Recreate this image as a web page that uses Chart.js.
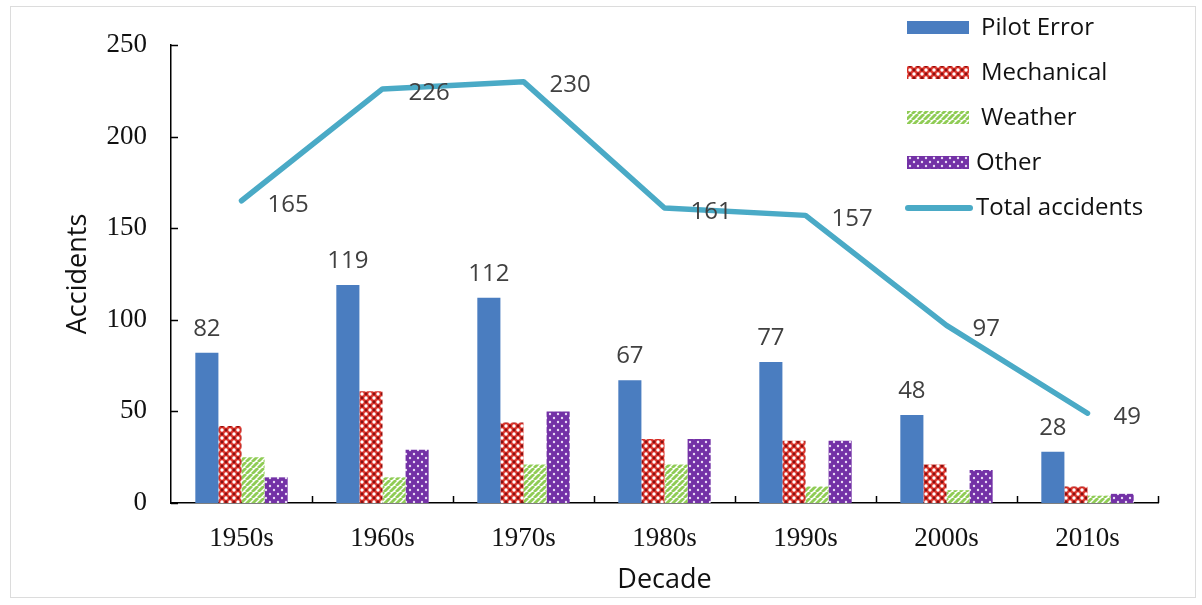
<!DOCTYPE html>
<html>
<head>
<meta charset="utf-8">
<script src="https://cdn.jsdelivr.net/npm/chart.js@4.4.1/dist/chart.umd.min.js"></script>
<style>
  html, body { margin: 0; padding: 0; background: #fff; }
  #wrap { width: 1202px; height: 605px; position: relative; }
</style>
</head>
<body>
<div id="wrap"><canvas id="accidentsChart" width="1202" height="605"></canvas></div>
<script>
// ---- data ----
const decades = ['1950s', '1960s', '1970s', '1980s', '1990s', '2000s', '2010s'];
const pilotError = [82, 119, 112, 67, 77, 48, 28];
const mechanical = [42, 61, 44, 35, 34, 21, 9];
const weather = [25, 14, 21, 21, 9, 7, 4];
const other = [14, 29, 50, 35, 34, 18, 5];
const totalAccidents = [165, 226, 230, 161, 157, 97, 49];
const yTicks = [0, 50, 100, 150, 200, 250];

const SANS = "'Open Sans', 'Noto Sans', sans-serif";
const SERIF = "'Liberation Serif', 'DejaVu Serif', serif";

// ---- fill patterns ----
function makeTile(size, paint) {
  const c = document.createElement('canvas');
  c.width = size; c.height = size;
  paint(c.getContext('2d'), size);
  return c.getContext('2d').createPattern(c, 'repeat');
}
function dot(g, x, y, r, col) {
  g.fillStyle = col;
  g.beginPath(); g.arc(x, y, r, 0, Math.PI * 2); g.fill();
}

const mechPattern = makeTile(8, (g, s) => {
  g.fillStyle = '#df352c'; g.fillRect(0, 0, s, s);
  dot(g, 2, 2, 1.7, '#ffffff');
  dot(g, 6, 6, 1.7, '#ffffff');
  dot(g, 6, 2, 1.4, '#861212');
  dot(g, 2, 6, 1.4, '#861212');
});

const weatherPattern = makeTile(6, (g, s) => {
  g.fillStyle = '#ffffff'; g.fillRect(0, 0, s, s);
  g.strokeStyle = '#8fcc55'; g.lineWidth = 2.8;
  for (let k = -1; k <= 1; k++) {
    g.beginPath();
    g.moveTo(k * s, s);
    g.lineTo(k * s + s, 0);
    g.stroke();
  }
});

const otherPattern = makeTile(8, (g, s) => {
  g.fillStyle = '#7331a6'; g.fillRect(0, 0, s, s);
  dot(g, 2, 2, 1.2, '#e9dcf5');
  dot(g, 6, 6, 1.2, '#e9dcf5');
});

// ---- plugins ----
const framePlugin = {
  id: 'frame',
  beforeDraw(chart) {
    const ctx = chart.ctx;
    ctx.save();
    ctx.strokeStyle = '#dcdcdc';
    ctx.lineWidth = 1;
    ctx.strokeRect(10.5, 6.5, 1185, 591);
    ctx.restore();
  }
};

const innerTicks = {
  id: 'innerTicks',
  afterDraw(chart) {
    const { ctx, scales: { x, y } } = chart;
    ctx.save();
    ctx.strokeStyle = '#000';
    ctx.lineWidth = 1.5;
    ctx.beginPath();
    y.ticks.forEach(t => {
      const py = Math.round(y.getPixelForValue(t.value)) + 0.5;
      ctx.moveTo(x.left, py); ctx.lineTo(x.left + 7, py);
    });
    const step = x.width / decades.length;
    for (let i = 1; i <= decades.length; i++) {
      const px = Math.round(x.left + i * step) + 0.5;
      ctx.moveTo(px, y.bottom); ctx.lineTo(px, y.bottom - 7);
    }
    ctx.stroke();
    ctx.restore();
  }
};

const valueLabels = {
  id: 'valueLabels',
  afterDatasetsDraw(chart) {
    const ctx = chart.ctx;
    ctx.save();
    ctx.fillStyle = '#404040';
    ctx.font = '24px ' + SANS;
    // pilot error values above the blue bars
    ctx.textAlign = 'center';
    ctx.textBaseline = 'alphabetic';
    chart.getDatasetMeta(0).data.forEach((el, i) => {
      ctx.fillText(pilotError[i], el.x, el.y - 17);
    });
    // totals to the right of the line points
    ctx.textAlign = 'left';
    ctx.textBaseline = 'middle';
    chart.getDatasetMeta(4).data.forEach((el, i) => {
      ctx.fillText(totalAccidents[i], el.x + 26, el.y + 4);
    });
    ctx.restore();
  }
};

const sideLegend = {
  id: 'sideLegend',
  afterDraw(chart) {
    const ctx = chart.ctx;
    ctx.save();
    ctx.font = '24px ' + SANS;
    ctx.textBaseline = 'middle';
    ctx.textAlign = 'left';
    chart.data.datasets.forEach((ds, i) => {
      const cy = 28 + i * 45;
      if (ds.type === 'line') {
        ctx.strokeStyle = ds.borderColor;
        ctx.lineWidth = 6;
        ctx.lineCap = 'round';
        ctx.beginPath();
        ctx.moveTo(908, cy); ctx.lineTo(970, cy);
        ctx.stroke();
      } else {
        ctx.fillStyle = ds.backgroundColor;
        ctx.fillRect(907, cy - 7, 62, 13);
      }
      ctx.fillStyle = '#111';
      ctx.fillText(ds.label, i >= 3 ? 976 : 981, cy);
    });
    ctx.restore();
  }
};

// ---- chart ----
new Chart(document.getElementById('accidentsChart'), {
  data: {
    labels: decades,
    datasets: [
      { type: 'bar', label: 'Pilot Error', data: pilotError, backgroundColor: '#4a7dc0', order: 1 },
      { type: 'bar', label: 'Mechanical', data: mechanical, backgroundColor: mechPattern, order: 1 },
      { type: 'bar', label: 'Weather', data: weather, backgroundColor: weatherPattern, order: 1 },
      { type: 'bar', label: 'Other', data: other, backgroundColor: otherPattern, order: 1 },
      {
        type: 'line', label: 'Total accidents', data: totalAccidents,
        borderColor: '#4aaac6', backgroundColor: '#4aaac6',
        borderWidth: 5.5, pointRadius: 0, tension: 0, fill: false,
        borderCapStyle: 'round', borderJoinStyle: 'round', order: 0
      }
    ]
  },
  options: {
    responsive: false,
    animation: false,
    layout: { padding: { top: 45, right: 44, bottom: 0, left: 0 } },
    datasets: { bar: { categoryPercentage: 0.655, barPercentage: 1.0, borderWidth: 0 } },
    plugins: { legend: { display: false }, tooltip: { enabled: false } },
    scales: {
      x: {
        offset: true,
        grid: { display: false, drawTicks: false },
        border: { display: true, color: '#000', width: 1.5 },
        ticks: { color: '#111', padding: 20, font: { family: SERIF, size: 27 } },
        title: { display: true, text: 'Decade', color: '#111', padding: { top: 0, bottom: 8 }, font: { family: SANS, size: 27 } },
        afterFit: s => { s.height = 102; }
      },
      y: {
        min: 0, max: 250,
        afterBuildTicks: s => { s.ticks = yTicks.map(v => ({ value: v })); },
        grid: { display: false, drawTicks: false },
        border: { display: true, color: '#000', width: 1.5 },
        ticks: { color: '#111', padding: 24, font: { family: SERIF, size: 27 } },
        title: { display: true, text: 'Accidents', color: '#111', padding: { top: 62, bottom: 0 }, font: { family: SANS, size: 27 } },
        afterFit: s => { s.width = 171; }
      }
    }
  },
  plugins: [framePlugin, innerTicks, valueLabels, sideLegend]
});
</script>
</body>
</html>
